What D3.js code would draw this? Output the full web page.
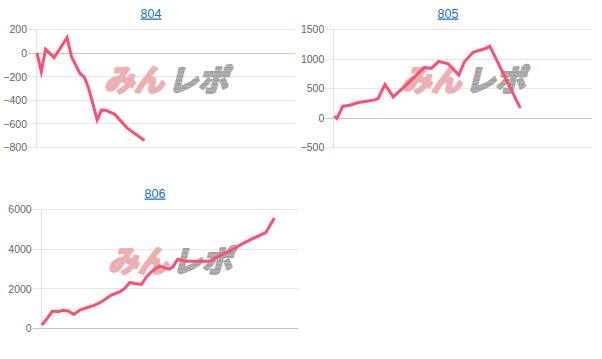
<!DOCTYPE html>
<html><head><meta charset="utf-8">
<script src="https://cdn.jsdelivr.net/npm/d3@7"></script>
<style>body{margin:0;background:#fff;} svg{display:block}</style>
</head><body><svg id="c" width="602" height="359"></svg>
<script>
// ---- data ----
const titles = ["804", "805", "806"];
const xMax = 60; // shared x index range (games)

const x804 = [0, 1, 2, 4, 7, 8, 10, 11, 12, 14, 15, 16, 18, 21, 25];
const v804 = [0, -160, 30, -40, 130, -30, -175, -205, -300, -570, -486, -488, -520, -640, -745];

const x805 = [0, 0.6, 2, 3.6, 5.6, 7.5, 9.4, 10.2, 11.8, 13.7, 16.7, 19.1, 21, 22.6, 24.3, 26.5, 29, 30.3, 32.3, 35.4, 36.2, 43.3];
const v805 = [27, -15, 193, 210, 256, 278, 300, 324, 563, 352, 551, 722, 853, 836, 955, 915, 722, 949, 1110, 1177, 1215, 160];

const x806 = [0, 1.2, 2.5, 3.9, 5, 6.2, 7.5, 8.9, 10.5, 12.4, 14, 16.3, 18.2, 19.4, 20.6, 21.7, 23.3, 24.5, 25.6, 27.6, 28.7, 29.8, 30.7, 31.8, 33.8, 39.2, 41.5, 44.7, 47, 49.3, 52.4, 54.4];
const v806 = [151, 453, 856, 822, 890, 856, 688, 906, 1024, 1158, 1326, 1662, 1830, 1998, 2300, 2250, 2200, 2585, 2837, 3139, 3038, 2972, 3089, 3476, 3375, 3375, 3643, 3980, 4265, 4517, 4819, 5558];

const ticks804 = [-800, -600, -400, -200, 0, 200];
const ticks805 = [-500, 0, 500, 1000, 1500];
const ticks806 = [0, 2000, 4000, 6000];

// ---- layout ----
const panels = [
  {title: titles[0], xs: x804, vs: v804, ticks: ticks804, left: 36, right: 295, top: 29.3, bottom: 147, tx: 151, ty: 17.5},
  {title: titles[1], xs: x805, vs: v805, ticks: ticks805, left: 333.3, right: 592, top: 29.3, bottom: 147, tx: 448, ty: 17.5},
  {title: titles[2], xs: x806, vs: v806, ticks: ticks806, left: 40.7, right: 298.3, top: 209.3, bottom: 328, tx: 155, ty: 197.5}
];

const svg = d3.select("#c");
const defs = svg.append("defs");
const pat = defs.append("pattern").attr("id", "stripe").attr("patternUnits", "userSpaceOnUse")
  .attr("width", 6).attr("height", 4);
pat.append("rect").attr("width", 6).attr("height", 4).attr("fill", "#b4b4b4");
pat.append("rect").attr("width", 6).attr("height", 2.6).attr("fill", "#a4a4a4");

const FONT = "'Liberation Sans', Arial, Helvetica, sans-serif";
const LINE = "#ff4f70";

panels.forEach(p => {
  const g = svg.append("g");
  const y = d3.scaleLinear().domain(d3.extent(p.ticks)).range([p.bottom, p.top]);
  const x = d3.scaleLinear().domain([0, xMax]).range([p.left + 1, p.right]);

  // title
  g.append("text").attr("x", p.tx).attr("y", p.ty).attr("text-anchor", "middle")
    .attr("font-family", FONT).attr("font-size", 12.5).attr("fill", "#1a6ed0")
    .style("text-decoration", "underline").text(p.title);

  // gridlines
  p.ticks.forEach(t => {
    g.append("line").attr("x1", p.left - 8).attr("x2", p.right)
      .attr("y1", Math.round(y(t)) + 0.5).attr("y2", Math.round(y(t)) + 0.5)
      .attr("stroke", t === 0 ? "#c6c6c6" : "#e6e6e6").attr("stroke-width", 1);
  });
  // y axis line
  g.append("line").attr("x1", Math.round(p.left) + 0.5).attr("x2", Math.round(p.left) + 0.5)
    .attr("y1", p.top).attr("y2", p.bottom).attr("stroke", "#e3e3e3");

  // y axis labels via d3 axis
  const ax = g.append("g").attr("transform", `translate(${p.left - 9},0)`)
    .call(d3.axisLeft(y).tickValues(p.ticks).tickSize(0).tickPadding(0).tickFormat(d3.format("d")));
  ax.select(".domain").remove();
  ax.selectAll("text").attr("font-family", FONT).attr("font-size", 10.5).attr("fill", "#666").attr("dy", "0.35em");

  // watermark
  const cx = (p.left + p.right) / 2 + 1.5;
  const cy = (p.top + p.bottom) / 2 - 8;
  const wm = g.append("g").attr("transform", `translate(${cx - 63},${cy + 11}) skewX(-14)`);
  wm.append("text").attr("x", 0).attr("y", 0)
    .attr("font-family", "'Noto Sans CJK JP'").attr("font-weight", 700).attr("font-size", 30)
    .attr("fill", "#ecb0b3").attr("stroke", "#ecb0b3").attr("stroke-width", 2.6)
    .attr("stroke-linejoin", "round").text("みん");
  wm.append("text").attr("x", 64).attr("y", 0)
    .attr("font-family", "'Noto Sans CJK JP'").attr("font-weight", 700).attr("font-size", 30)
    .attr("fill", "url(#stripe)").attr("stroke", "url(#stripe)").attr("stroke-width", 2.6)
    .attr("stroke-linejoin", "round").text("レポ");

  // data line
  const pts = p.xs.map((d, i) => [d, p.vs[i]]);
  g.append("path").datum(pts)
    .attr("d", d3.line().x(d => x(d[0])).y(d => y(d[1])))
    .attr("fill", "none").attr("stroke", LINE).attr("stroke-width", 3)
    .attr("stroke-linejoin", "miter").attr("stroke-miterlimit", 10);
});
</script></body></html>
